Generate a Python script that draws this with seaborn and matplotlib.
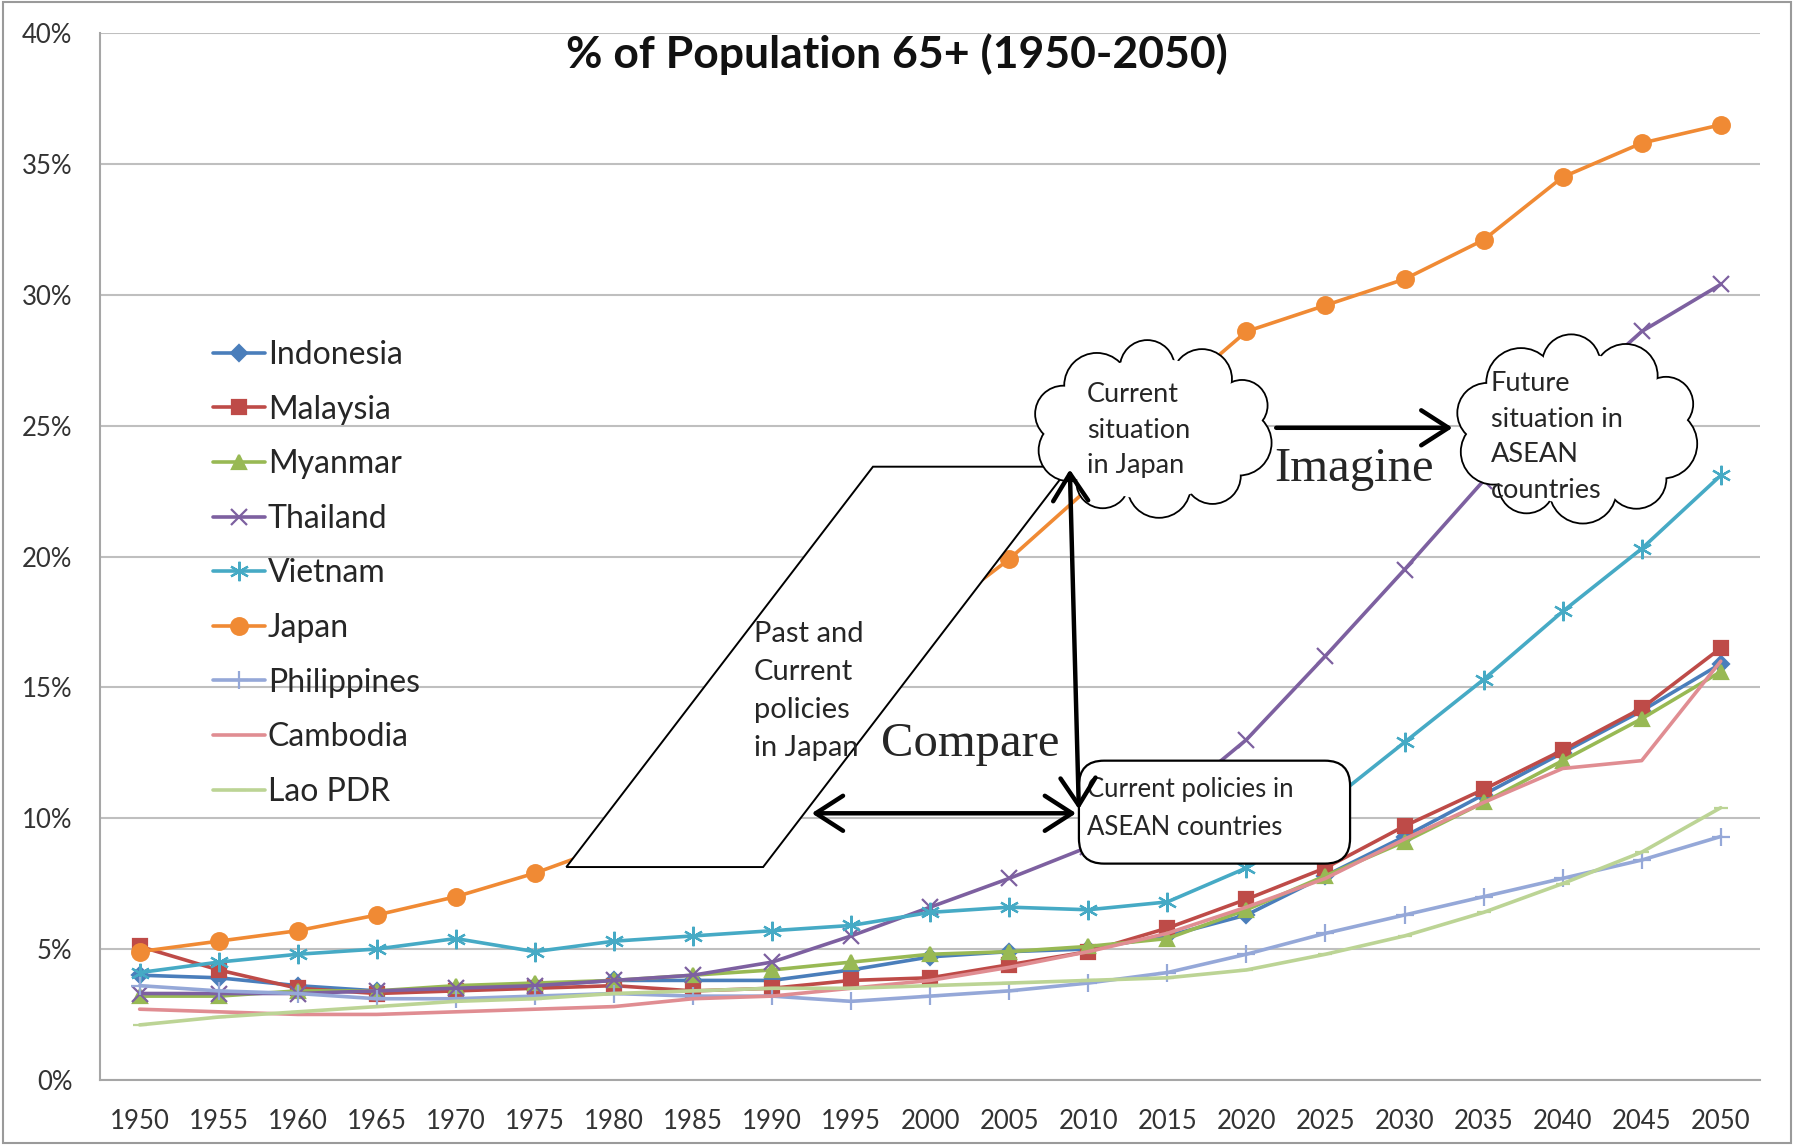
import numpy as np
import matplotlib
matplotlib.use('Agg')
import matplotlib.pyplot as plt
import matplotlib.patches as mpatches
import seaborn as sns
import pandas as pd

# --- data (% of population aged 65+) ---
years = list(range(1950, 2051, 5))
indonesia = [4.0, 3.9, 3.6, 3.4, 3.4, 3.6, 3.8, 3.8, 3.8, 4.2, 4.7, 4.9, 5.0, 5.5, 6.3, 7.8, 9.3, 10.9, 12.5, 14.1, 15.9]
malaysia = [5.1, 4.2, 3.5, 3.3, 3.4, 3.5, 3.6, 3.4, 3.5, 3.8, 3.9, 4.4, 4.9, 5.8, 6.9, 8.1, 9.7, 11.1, 12.6, 14.2, 16.5]
myanmar = [3.2, 3.2, 3.4, 3.4, 3.6, 3.7, 3.8, 4.0, 4.2, 4.5, 4.8, 4.9, 5.1, 5.4, 6.5, 7.8, 9.1, 10.6, 12.2, 13.8, 15.6]
thailand = [3.3, 3.3, 3.3, 3.4, 3.5, 3.6, 3.8, 4.0, 4.5, 5.5, 6.6, 7.7, 8.9, 10.5, 13.0, 16.2, 19.5, 22.9, 25.9, 28.6, 30.4]
vietnam = [4.1, 4.5, 4.8, 5.0, 5.4, 4.9, 5.3, 5.5, 5.7, 5.9, 6.4, 6.6, 6.5, 6.8, 8.1, 10.5, 12.9, 15.3, 17.9, 20.3, 23.1]
japan = [4.9, 5.3, 5.7, 6.3, 7.0, 7.9, 9.0, 10.3, 12.0, 14.6, 17.6, 19.9, 22.6, 26.0, 28.6, 29.6, 30.6, 32.1, 34.5, 35.8, 36.5]
philippines = [3.6, 3.4, 3.3, 3.1, 3.1, 3.2, 3.3, 3.2, 3.2, 3.0, 3.2, 3.4, 3.7, 4.1, 4.8, 5.6, 6.3, 7.0, 7.7, 8.4, 9.3]
cambodia = [2.7, 2.6, 2.5, 2.5, 2.6, 2.7, 2.8, 3.1, 3.2, 3.5, 3.8, 4.3, 4.9, 5.6, 6.6, 7.7, 9.2, 10.6, 11.9, 12.2, 16.0]
lao = [2.1, 2.4, 2.6, 2.8, 3.0, 3.1, 3.3, 3.4, 3.5, 3.5, 3.6, 3.7, 3.8, 3.9, 4.2, 4.8, 5.5, 6.4, 7.5, 8.7, 10.4]

countries = ['Indonesia', 'Malaysia', 'Myanmar', 'Thailand', 'Vietnam',
             'Japan', 'Philippines', 'Cambodia', 'Lao PDR']
series = [indonesia, malaysia, myanmar, thailand, vietnam,
          japan, philippines, cambodia, lao]

df = pd.DataFrame({
    'year': np.tile(years, len(countries)),
    'country': np.repeat(countries, len(years)),
    'pct': np.concatenate(series),
})

# excel 2007 look
colors = {'Indonesia': '#4A7EBB', 'Malaysia': '#BE4B48', 'Myanmar': '#98B954',
          'Thailand': '#7D60A0', 'Vietnam': '#46AAC5', 'Japan': '#F08A34',
          'Philippines': '#95A8D8', 'Cambodia': '#E08D92', 'Lao PDR': '#BCD495'}
markers = {'Indonesia': ('D', 8), 'Malaysia': ('s', 10), 'Myanmar': ('^', 10),
           'Thailand': ('x', 12), 'Vietnam': ((6, 2, 0), 14), 'Japan': ('o', 12),
           'Philippines': ('+', 13), 'Cambodia': (None, 0), 'Lao PDR': ('_', 10)}

sns.set_style('white')
plt.rcParams['font.family'] = ['Lato', 'DejaVu Sans']

fig = plt.figure(figsize=(17.94, 11.45), dpi=100)
ax = fig.add_axes([0.0558, 0.0569, 0.9254, 0.9141])

for name in countries:
    sub = df[df['country'] == name]
    m, ms = markers[name]
    sns.lineplot(data=sub, x='year', y='pct', ax=ax, color=colors[name],
                 linewidth=2.6, marker=m, markersize=ms, markeredgewidth=1.6,
                 markeredgecolor=colors[name], label=name)

ax.set_xlim(1947.5, 2052.5)
ax.set_ylim(0, 40)
ax.set_xticks(years)
ax.set_xticklabels([str(y) for y in years])
ax.set_xticks(np.arange(1947.5, 2053, 5), minor=True)
ax.tick_params(axis='x', which='major', length=0, pad=21, labelsize=18.5, labelcolor='#333333')
ax.tick_params(axis='x', which='minor', length=7, width=1.4, color='#A6A6A6', direction='out')
ax.set_yticks(range(0, 41, 5))
ax.set_yticklabels([f'{v}%' for v in range(0, 41, 5)])
ax.tick_params(axis='y', length=7, width=1.4, color='#A6A6A6', pad=13,
               labelsize=18.5, labelcolor='#333333')
ax.set_xlabel('')
ax.set_ylabel('')
ax.grid(axis='y', color='#BFBFBF', linewidth=1.5)
ax.set_axisbelow(True)
for s in ['top', 'right']:
    ax.spines[s].set_visible(False)
for s in ['left', 'bottom']:
    ax.spines[s].set_color('#A6A6A6')
    ax.spines[s].set_linewidth(1.5)

handles, labels = ax.get_legend_handles_labels()
leg = ax.legend(handles, labels, loc='upper left', bbox_to_anchor=(0.119, 0.703),
                bbox_transform=fig.transFigure, frameon=False, fontsize=23,
                handlelength=1.6, handletextpad=0.1, labelspacing=0.77,
                borderpad=0, borderaxespad=0)
for t in leg.get_texts():
    t.set_color('#262626')

# --- annotation shapes, in picture coordinates ---
ov = fig.add_axes([0, 0, 1, 1], zorder=5)
ov.set_xlim(0, 1568)
ov.set_ylim(1001, 0)
ov.axis('off')

ov.text(784, 47, '% of Population 65+ (1950-2050)', ha='center', va='center',
        fontsize=32, fontweight='bold', color='#111111')


def cloud(a_x, x0, y0, x1, y1):
    cx, cy = (x0 + x1) / 2, (y0 + y1) / 2
    a, b = (x1 - x0) / 2, (y1 - y0) / 2
    radii = [0.36, 0.31, 0.35, 0.29, 0.34, 0.31, 0.36, 0.30, 0.33, 0.28]
    bumps = []
    for k, rf in enumerate(radii):
        t = 2 * np.pi * k / len(radii) + 0.25
        r = rf * b
        bumps.append((cx + (a - r) * np.cos(t), cy + (b - r) * np.sin(t), r))
    for bx, by, r in bumps:
        a_x.add_patch(mpatches.Circle((bx, by), r, fc='white', ec='black', lw=2.6, zorder=2))
    for bx, by, r in bumps:
        a_x.add_patch(mpatches.Circle((bx, by), r, fc='white', ec='none', zorder=3))
    a_x.add_patch(mpatches.Ellipse((cx, cy), 1.6 * a, 1.6 * b, fc='white', ec='none', zorder=3))


ov.add_patch(mpatches.Polygon([(495, 758), (667, 758), (935, 408), (763, 408)],
                              closed=True, fc='white', ec='black', lw=1.4, zorder=2))
ov.text(659, 604, 'Past and\nCurrent\npolicies\nin Japan', ha='left', va='center',
        fontsize=21, linespacing=1.57, zorder=4)

cloud(ov, 903, 298, 1113, 452)
ov.text(950, 376, 'Current\nsituation\nin Japan', ha='left', va='center',
        fontsize=19.5, linespacing=1.52, zorder=4)
cloud(ov, 1272, 293, 1485, 457)
ov.text(1303, 382, 'Future\nsituation in\nASEAN\ncountries', ha='left', va='center',
        fontsize=19.5, linespacing=1.52, zorder=4)

ov.add_patch(mpatches.FancyBboxPatch((943, 665), 237, 90,
                                     boxstyle='round,pad=0,rounding_size=22',
                                     fc='white', ec='black', lw=1.6, zorder=2))
ov.text(950, 707, 'Current policies in\nASEAN countries', ha='left', va='center',
        fontsize=18.5, linespacing=1.66, zorder=4)

arrow_kw = dict(mutation_scale=28, lw=3.2, color='black', zorder=4)
ov.add_patch(mpatches.FancyArrowPatch((935, 408), (943, 710),
                                      arrowstyle='<->,head_length=0.7,head_width=0.45', **arrow_kw))
ov.add_patch(mpatches.FancyArrowPatch((707, 711), (943, 711),
                                      arrowstyle='<->,head_length=0.7,head_width=0.45', **arrow_kw))
ov.add_patch(mpatches.FancyArrowPatch((1113, 374), (1272, 374),
                                      arrowstyle='->,head_length=0.7,head_width=0.45', **arrow_kw))

ov.text(848, 650, 'Compare', ha='center', va='center', fontsize=35,
        family=['Liberation Serif', 'DejaVu Serif'], zorder=4)
ov.text(1183, 410, 'Imagine', ha='center', va='center', fontsize=35,
        family=['Liberation Serif', 'DejaVu Serif'], zorder=4)

# thin frame round the picture
ov.add_patch(mpatches.Rectangle((3, 2), 1562, 997, fc='none', ec='#9A9A9A', lw=1.5, zorder=1))

fig.savefig('out.png', dpi=100)
